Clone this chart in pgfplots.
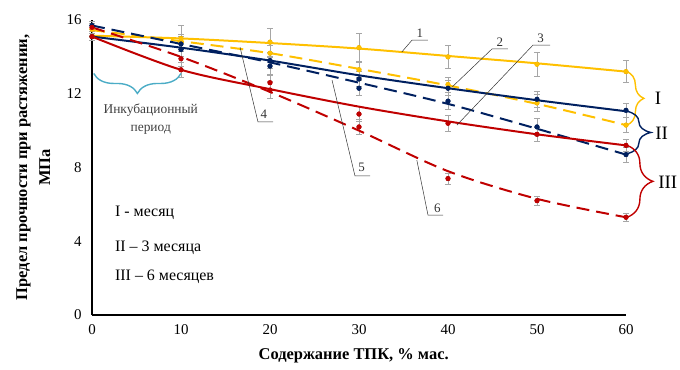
\documentclass[border=0pt]{standalone}
\usepackage{pgfplots}
\pgfplotsset{compat=1.18}
\usepackage{pgfplotstable}
\usepackage{fontspec}
\setmainfont{Liberation Serif}
\usetikzlibrary{decorations.pathreplacing}
\definecolor{cY}{HTML}{FFC000}
\definecolor{cB}{HTML}{002060}
\definecolor{cR}{HTML}{C00000}
\definecolor{cC}{HTML}{4BACC6}
\definecolor{cE}{HTML}{A6A6A6}

% data points: x y err
\pgfplotstableread{
x y e
0 15.1 0.2
10 15.0 0.7
20 14.8 0.75
30 14.5 0.75
40 14.0 0.6
50 13.6 0.65
60 13.2 0.6
}\dYs
\pgfplotstableread{
x y e
0 15.5 0.2
10 14.8 0.4
20 14.2 0.4
30 13.3 0.4
40 12.5 0.4
50 11.5 0.45
60 10.3 0.4
}\dYd
\pgfplotstableread{
x y e
0 15.1 0.2
10 14.7 0.4
20 13.8 0.45
30 12.8 0.4
40 12.3 0.4
50 11.7 0.45
60 11.1 0.4
}\dBs
\pgfplotstableread{
x y e
0 15.7 0.2
10 14.4 0.4
20 13.5 0.45
30 12.3 0.4
40 11.6 0.45
50 10.2 0.45
60 8.7 0.4
}\dBd
\pgfplotstableread{
x y e
0 15.1 0.2
10 13.3 0.4
20 12.2 0.45
30 10.9 0.4
40 10.4 0.45
50 9.8 0.4
60 9.2 0.35
}\dRs
\pgfplotstableread{
x y e
0 15.6 0.2
10 13.9 0.4
20 12.6 0.4
30 10.2 0.4
40 7.4 0.3
50 6.2 0.25
60 5.3 0.2
}\dRd
% trend lines
\pgfplotstableread{
x y
0 15.15
10 15.0
20 14.75
30 14.45
40 14.05
50 13.65
60 13.2
}\tYs
\pgfplotstableread{
x y
0 15.45
10 14.85
20 14.2
30 13.35
40 12.45
50 11.45
60 10.3
}\tYd
\pgfplotstableread{
x y
0 15.1
10 14.5
20 13.8
30 13.0
40 12.3
50 11.65
60 11.05
}\tBs
\pgfplotstableread{
x y
0 15.7
10 14.7
20 13.7
30 12.6
40 11.45
50 10.1
60 8.7
}\tBd
\pgfplotstableread{
x y
0 15.1
10 13.3
20 12.25
30 11.3
40 10.5
50 9.8
60 9.2
}\tRs
\pgfplotstableread{
x y
0 15.6
10 14.0
20 12.1
30 10.0
40 7.8
50 6.3
60 5.3
}\tRd

\begin{document}
\begin{tikzpicture}
\begin{axis}[name=ax,
  width=534bp, height=295bp, scale only axis,
  xmin=0, xmax=60, ymin=0, ymax=16,
  axis lines=left,
  axis line style={line width=1.5pt, black, -},
  xtick={0,10,...,60}, ytick={0,4,...,16},
  major tick length=0pt,
  tick label style={font=\fontsize{15}{17}\selectfont},
  /pgf/number format/assume math mode=true,
  xticklabel style={yshift=-6bp},
  yticklabel style={xshift=-7bp},
  clip=false,
  xlabel={Содержание ТПК, \% мас.},
  xlabel style={at={(axis description cs:0.49,-0.139)}, anchor=center, font=\bfseries\fontsize{16.5}{18}\selectfont},
  ylabel={Предел прочности при растяжении,\\МПа},
  ylabel style={at={(axis description cs:-0.11,0.5)}, anchor=center, rotate=0, align=center, font=\bfseries\fontsize{16.5}{23}\selectfont},
  errstyle/.style={only marks, mark=none, error bars/.cd, y dir=both, y explicit,
    error bar style={cE, line width=0.8pt},
    error mark options={rotate=90, mark size=3pt, cE, line width=0.8pt}},
  trend/.style={line width=2pt, smooth},
  dsh/.style={dash pattern=on 13pt off 7pt},
  pts/.style={only marks, mark=*, mark size=2.4pt},
]
% error bars
\addplot[errstyle] table[x=x, y=y, y error=e] {\dYs};
\addplot[errstyle] table[x=x, y=y, y error=e] {\dYd};
\addplot[errstyle] table[x=x, y=y, y error=e] {\dBs};
\addplot[errstyle] table[x=x, y=y, y error=e] {\dBd};
\addplot[errstyle] table[x=x, y=y, y error=e] {\dRs};
\addplot[errstyle] table[x=x, y=y, y error=e] {\dRd};
% trend lines
\addplot[trend, cY] table {\tYs};
\addplot[trend, cY, dsh] table {\tYd};
\addplot[trend, cB] table {\tBs};
\addplot[trend, cB, dsh] table {\tBd};
\addplot[trend, cR] table {\tRs};
\addplot[trend, cR, dsh] table {\tRd};
% data markers
\addplot[pts, cY, mark options={fill=cY}] table[x=x, y=y] {\dYs};
\addplot[pts, cY, mark options={fill=cY}] table[x=x, y=y] {\dYd};
\addplot[pts, cB, mark options={fill=cB}] table[x=x, y=y] {\dBs};
\addplot[pts, cB, mark options={fill=cB}] table[x=x, y=y] {\dBd};
\addplot[pts, cR, mark options={fill=cR}] table[x=x, y=y] {\dRs};
\addplot[pts, cR, mark options={fill=cR}] table[x=x, y=y] {\dRd};

% right braces
\draw[cY, line width=1.4pt, decorate, decoration={brace, amplitude=17bp}] (axis cs:60.1,13.2) -- (axis cs:60.1,10.3);
\draw[cB, line width=1.4pt, decorate, decoration={brace, amplitude=24bp}] (axis cs:60.1,11.05) -- (axis cs:60.1,8.75);
\draw[cR, line width=1.4pt, decorate, decoration={brace, amplitude=26bp}] (axis cs:60.1,9.2) -- (axis cs:60.1,5.3);
\node[font=\fontsize{19}{21}\selectfont] at (axis cs:63.6,11.77) {I};
\node[font=\fontsize{19}{21}\selectfont] at (axis cs:64.0,9.87) {II};
\node[font=\fontsize{19}{21}\selectfont] at (axis cs:64.7,7.21) {III};

% incubation brace
\draw[cC, line width=1.4pt, decorate, decoration={brace, amplitude=20bp}] (axis cs:10,13.1) -- (axis cs:0.2,13.1);
\node[align=center, text=black!75, font=\fontsize{13.5}{18}\selectfont] at (axis cs:6.6,10.6) {Инкубационный\\период};

% notes
\node[anchor=west, font=\fontsize{16}{18}\selectfont] at (axis cs:2.2,5.53) {I - месяц};
\node[anchor=west, font=\fontsize{16}{18}\selectfont] at (axis cs:2.2,3.63) {II – 3 месяца};
\node[anchor=west, font=\fontsize{16}{18}\selectfont] at (axis cs:2.2,2.06) {III – 6 месяцев};

% leader lines
\begin{scope}[line width=0.5pt, black!80]
\draw (axis cs:34.8,14.26) -- (axis cs:35.96,14.91) -- (axis cs:37.75,14.91);
\node[font=\fontsize{13}{15}\selectfont] at (axis cs:36.85,15.3) {1};
\draw (axis cs:40.45,12.36) -- (axis cs:44.94,14.43) -- (axis cs:46.74,14.43);
\node[font=\fontsize{13}{15}\selectfont] at (axis cs:45.84,14.8) {2};
\draw (axis cs:41.0,10.3) -- (axis cs:49.55,14.64) -- (axis cs:51.46,14.64);
\node[font=\fontsize{13}{15}\selectfont] at (axis cs:50.4,15.0) {3};
\draw (axis cs:16.63,14.53) -- (axis cs:18.65,10.47) -- (axis cs:20.34,10.47);
\node[font=\fontsize{13}{15}\selectfont] at (axis cs:19.3,10.9) {4};
\draw (axis cs:26.97,12.74) -- (axis cs:29.55,7.54) -- (axis cs:31.24,7.54);
\node[font=\fontsize{13}{15}\selectfont] at (axis cs:30.3,8.0) {5};
\draw (axis cs:36.5,8.4) -- (axis cs:37.75,5.42) -- (axis cs:39.44,5.42);
\node[font=\fontsize{13}{15}\selectfont] at (axis cs:38.8,5.8) {6};
\end{scope}
\end{axis}
\pgfresetboundingbox
\useasboundingbox ([xshift=-92bp,yshift=-54bp]ax.south west) rectangle ([xshift=54bp,yshift=20bp]ax.north east);
\end{tikzpicture}
\end{document}
